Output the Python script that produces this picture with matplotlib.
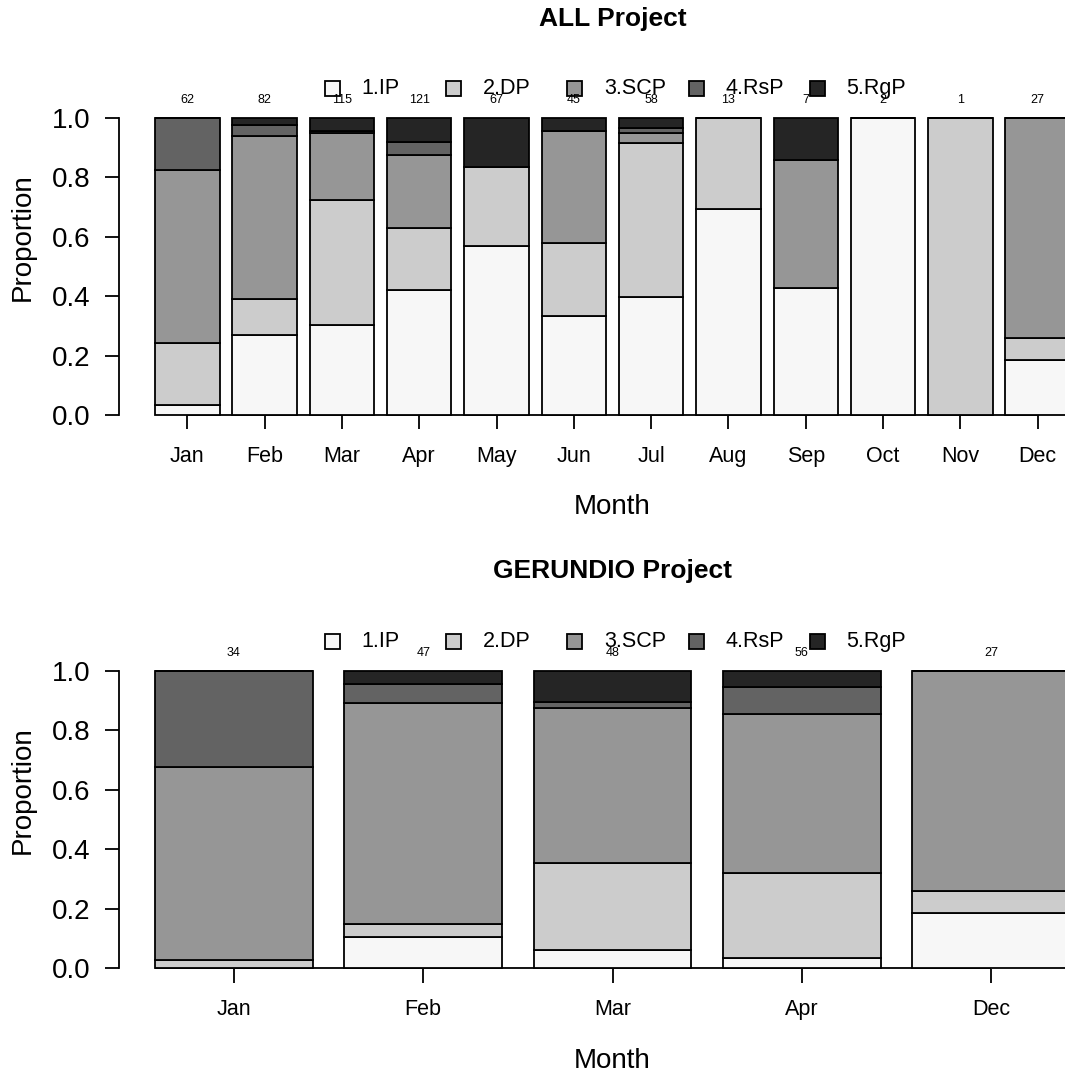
import numpy as np
import matplotlib
matplotlib.use('Agg')
import matplotlib.pyplot as plt
from matplotlib.patches import Rectangle
import matplotlib.transforms as mtrans

plt.rcParams['font.family'] = ['Liberation Sans', 'DejaVu Sans']

# categories
cats = ['1.IP', '2.DP', '3.SCP', '4.RsP', '5.RgP']
greys = ['#F7F7F7', '#CCCCCC', '#969696', '#636363', '#252525']

# ALL project, counts per month
months_all = ['Jan', 'Feb', 'Mar', 'Apr', 'May', 'Jun', 'Jul', 'Aug', 'Sep', 'Oct', 'Nov', 'Dec']
ip_all = [2, 22, 35, 51, 38, 15, 23, 9, 3, 2, 0, 5]
dp_all = [13, 10, 48, 25, 18, 11, 30, 4, 0, 0, 1, 2]
scp_all = [36, 45, 26, 30, 0, 17, 2, 0, 3, 0, 0, 20]
rsp_all = [11, 3, 1, 5, 0, 0, 1, 0, 0, 0, 0, 0]
rgp_all = [0, 2, 5, 10, 11, 2, 2, 0, 1, 0, 0, 0]

# GERUNDIO project
months_ger = ['Jan', 'Feb', 'Mar', 'Apr', 'Dec']
ip_ger = [0, 5, 3, 2, 5]
dp_ger = [1, 2, 14, 16, 2]
scp_ger = [22, 35, 25, 30, 20]
rsp_ger = [11, 3, 1, 5, 0]
rgp_ger = [0, 2, 5, 3, 0]

fig = plt.figure(figsize=(10.65, 10.8), dpi=100)
W, H = 1065.0, 1080.0
ax_left = 118.5 / W
ax_w = 988.0 / W
ax_h = 385.3 / H
LW = 1.3


def draw_panel(ax, months, series, title, title_y):
    counts = np.array(series, dtype=float)
    n = counts.sum(axis=0)
    props = counts / n
    nb = len(months)
    x = 0.7 + 1.2 * np.arange(nb)
    bottom = np.zeros(nb)
    for k in range(len(cats)):
        ax.bar(x, props[k], width=1.0, bottom=bottom, color=greys[k],
               edgecolor='black', linewidth=LW, zorder=2)
        bottom += props[k]
    ax.set_xlim(0.2 - 0.04 * (1.2 * nb - 0.2), 1.2 * nb + 0.04 * (1.2 * nb - 0.2))
    ax.set_ylim(-0.048, 1.248)

    # sample sizes above bars
    for xi, ni in zip(x, n):
        ax.text(xi, 1.06, '%d' % ni, ha='center', va='center', fontsize=9)

    # axis line at y=0 between first and last tick
    ax.plot([x[0], x[-1]], [0, 0], color='black', lw=LW, zorder=1,
            solid_capstyle='butt')

    for s in ['top', 'right', 'bottom']:
        ax.spines[s].set_visible(False)
    ax.spines['left'].set_bounds(0, 1)
    ax.spines['left'].set_linewidth(LW)
    ax.set_yticks([0, 0.2, 0.4, 0.6, 0.8, 1.0])
    ax.set_yticklabels(['0.0', '0.2', '0.4', '0.6', '0.8', '1.0'])
    ax.tick_params(axis='y', direction='out', length=10, width=LW, pad=10,
                   labelsize=20)
    ax.set_xticks(x)
    ax.set_xticklabels(months)
    ax.tick_params(axis='x', direction='in', length=10, width=LW, pad=12,
                   labelsize=15.5)

    ax.set_ylabel('Proportion', fontsize=20)
    ax.yaxis.set_label_coords((23 - 118.5) / 988.0, 0.5)
    ax.yaxis.label.set_va('center')
    ax.set_xlabel('Month', fontsize=20)
    ax.xaxis.set_label_coords(0.5, -78.0 / 385.3)
    ax.xaxis.label.set_va('center')

    # horizontal legend above the bars
    tr = mtrans.blended_transform_factory(ax.transAxes, ax.transData)
    bw = 15.0 / 988.0
    bh = 15.0 / 297.3
    for k, lab in enumerate(cats):
        x0 = (324.5 - 118.5) / 988.0 + k * 121.4 / 988.0
        ax.add_patch(Rectangle((x0, 1.098 - bh / 2), bw, bh, transform=tr,
                               facecolor=greys[k], edgecolor='black', lw=LW,
                               clip_on=False))
        ax.text(x0 + 36.5 / 988.0, 1.098, lab, transform=tr, ha='left',
                va='center', fontsize=15.5)

    fig.text((118.5 + 494.0) / W, title_y, title, ha='center', va='center',
             fontsize=19, fontweight='bold')


ax1 = fig.add_axes([ax_left, 1 - 429.3 / H, ax_w, ax_h])
draw_panel(ax1, months_all, [ip_all, dp_all, scp_all, rsp_all, rgp_all],
           'ALL Project', 1 - 19.0 / H)

ax2 = fig.add_axes([ax_left, 1 - 982.6 / H, ax_w, ax_h])
draw_panel(ax2, months_ger, [ip_ger, dp_ger, scp_ger, rsp_ger, rgp_ger],
           'GERUNDIO Project', 1 - 571.0 / H)

fig.savefig('out.png', dpi=100)
